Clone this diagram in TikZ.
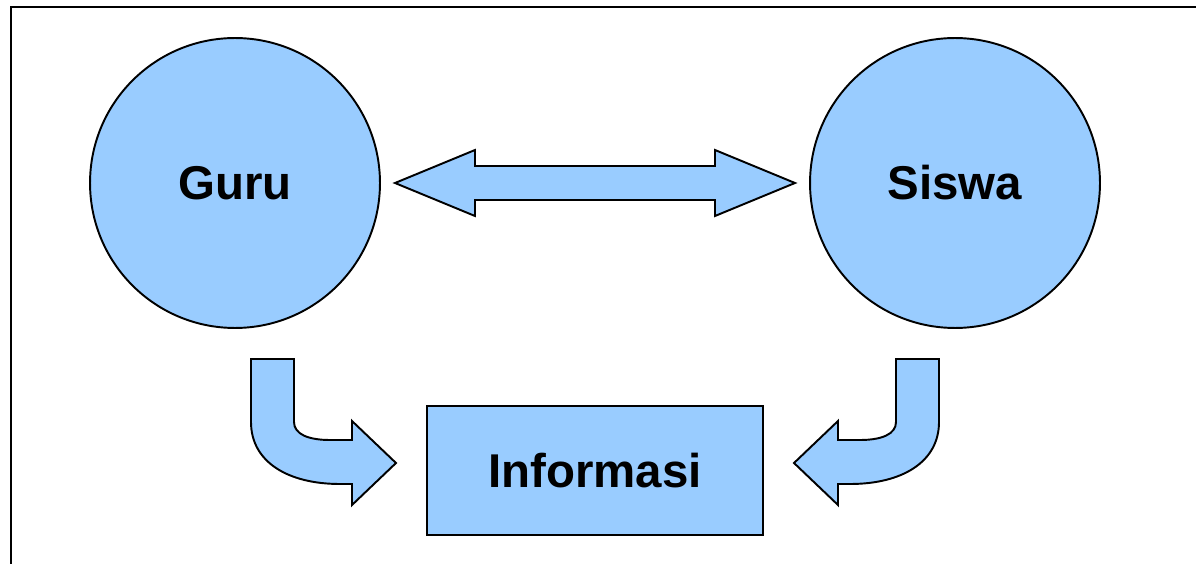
\documentclass[tikz,border=0pt]{standalone}
\usepackage{fontspec}
\setmainfont{Liberation Sans}
\usepackage{tikz}
\definecolor{lightsky}{HTML}{99CCFF}
\tikzstyle{rolecircle} = [draw=black, fill=lightsky, line width=1.1pt, circle, minimum size=5.8cm, inner sep=0pt, font=\fontsize{27}{30}\selectfont\bfseries]
\tikzstyle{infobox} = [draw=black, fill=lightsky, line width=1.1pt, rectangle, minimum width=6.72cm, minimum height=2.58cm, inner sep=0pt, font=\fontsize{27}{30}\selectfont\bfseries]
\tikzstyle{blockarrow} = [draw=black, fill=lightsky, line width=1.1pt, line join=miter]

\begin{document}
\begin{tikzpicture}[x=0.02cm, y=-0.02cm]
\useasboundingbox (0,0) rectangle (1196,564);
\draw[line width=1.7pt] (11,570) -- (11,7) -- (1200,7);
\node[rolecircle] (guru) at (235,183) {Guru};
\node[rolecircle] (siswa) at (955,183) {Siswa};
\node[infobox] (info) at (595,470.5) {Informasi};
% double arrow between Guru and Siswa
\draw[blockarrow] (395,183) -- (475,150) -- (475,166) -- (715,166) -- (715,150) -- (795,183)
    -- (715,216) -- (715,200) -- (475,200) -- (475,216) -- cycle;
% Guru to Informasi
\draw[blockarrow] (251,359) -- (294,359) -- (294,422) .. controls (294,434) and (308,440) .. (330,440)
    -- (352,440) -- (352,421) -- (396,463) -- (352,505) -- (352,484) -- (340,484)
    .. controls (288,484) and (251,462) .. (251,422) -- cycle;
% Siswa to Informasi
\draw[blockarrow] (939,359) -- (896,359) -- (896,422) .. controls (896,434) and (882,440) .. (860,440)
    -- (838,440) -- (838,421) -- (794,463) -- (838,505) -- (838,484) -- (850,484)
    .. controls (902,484) and (939,462) .. (939,422) -- cycle;
\end{tikzpicture}
\end{document}
